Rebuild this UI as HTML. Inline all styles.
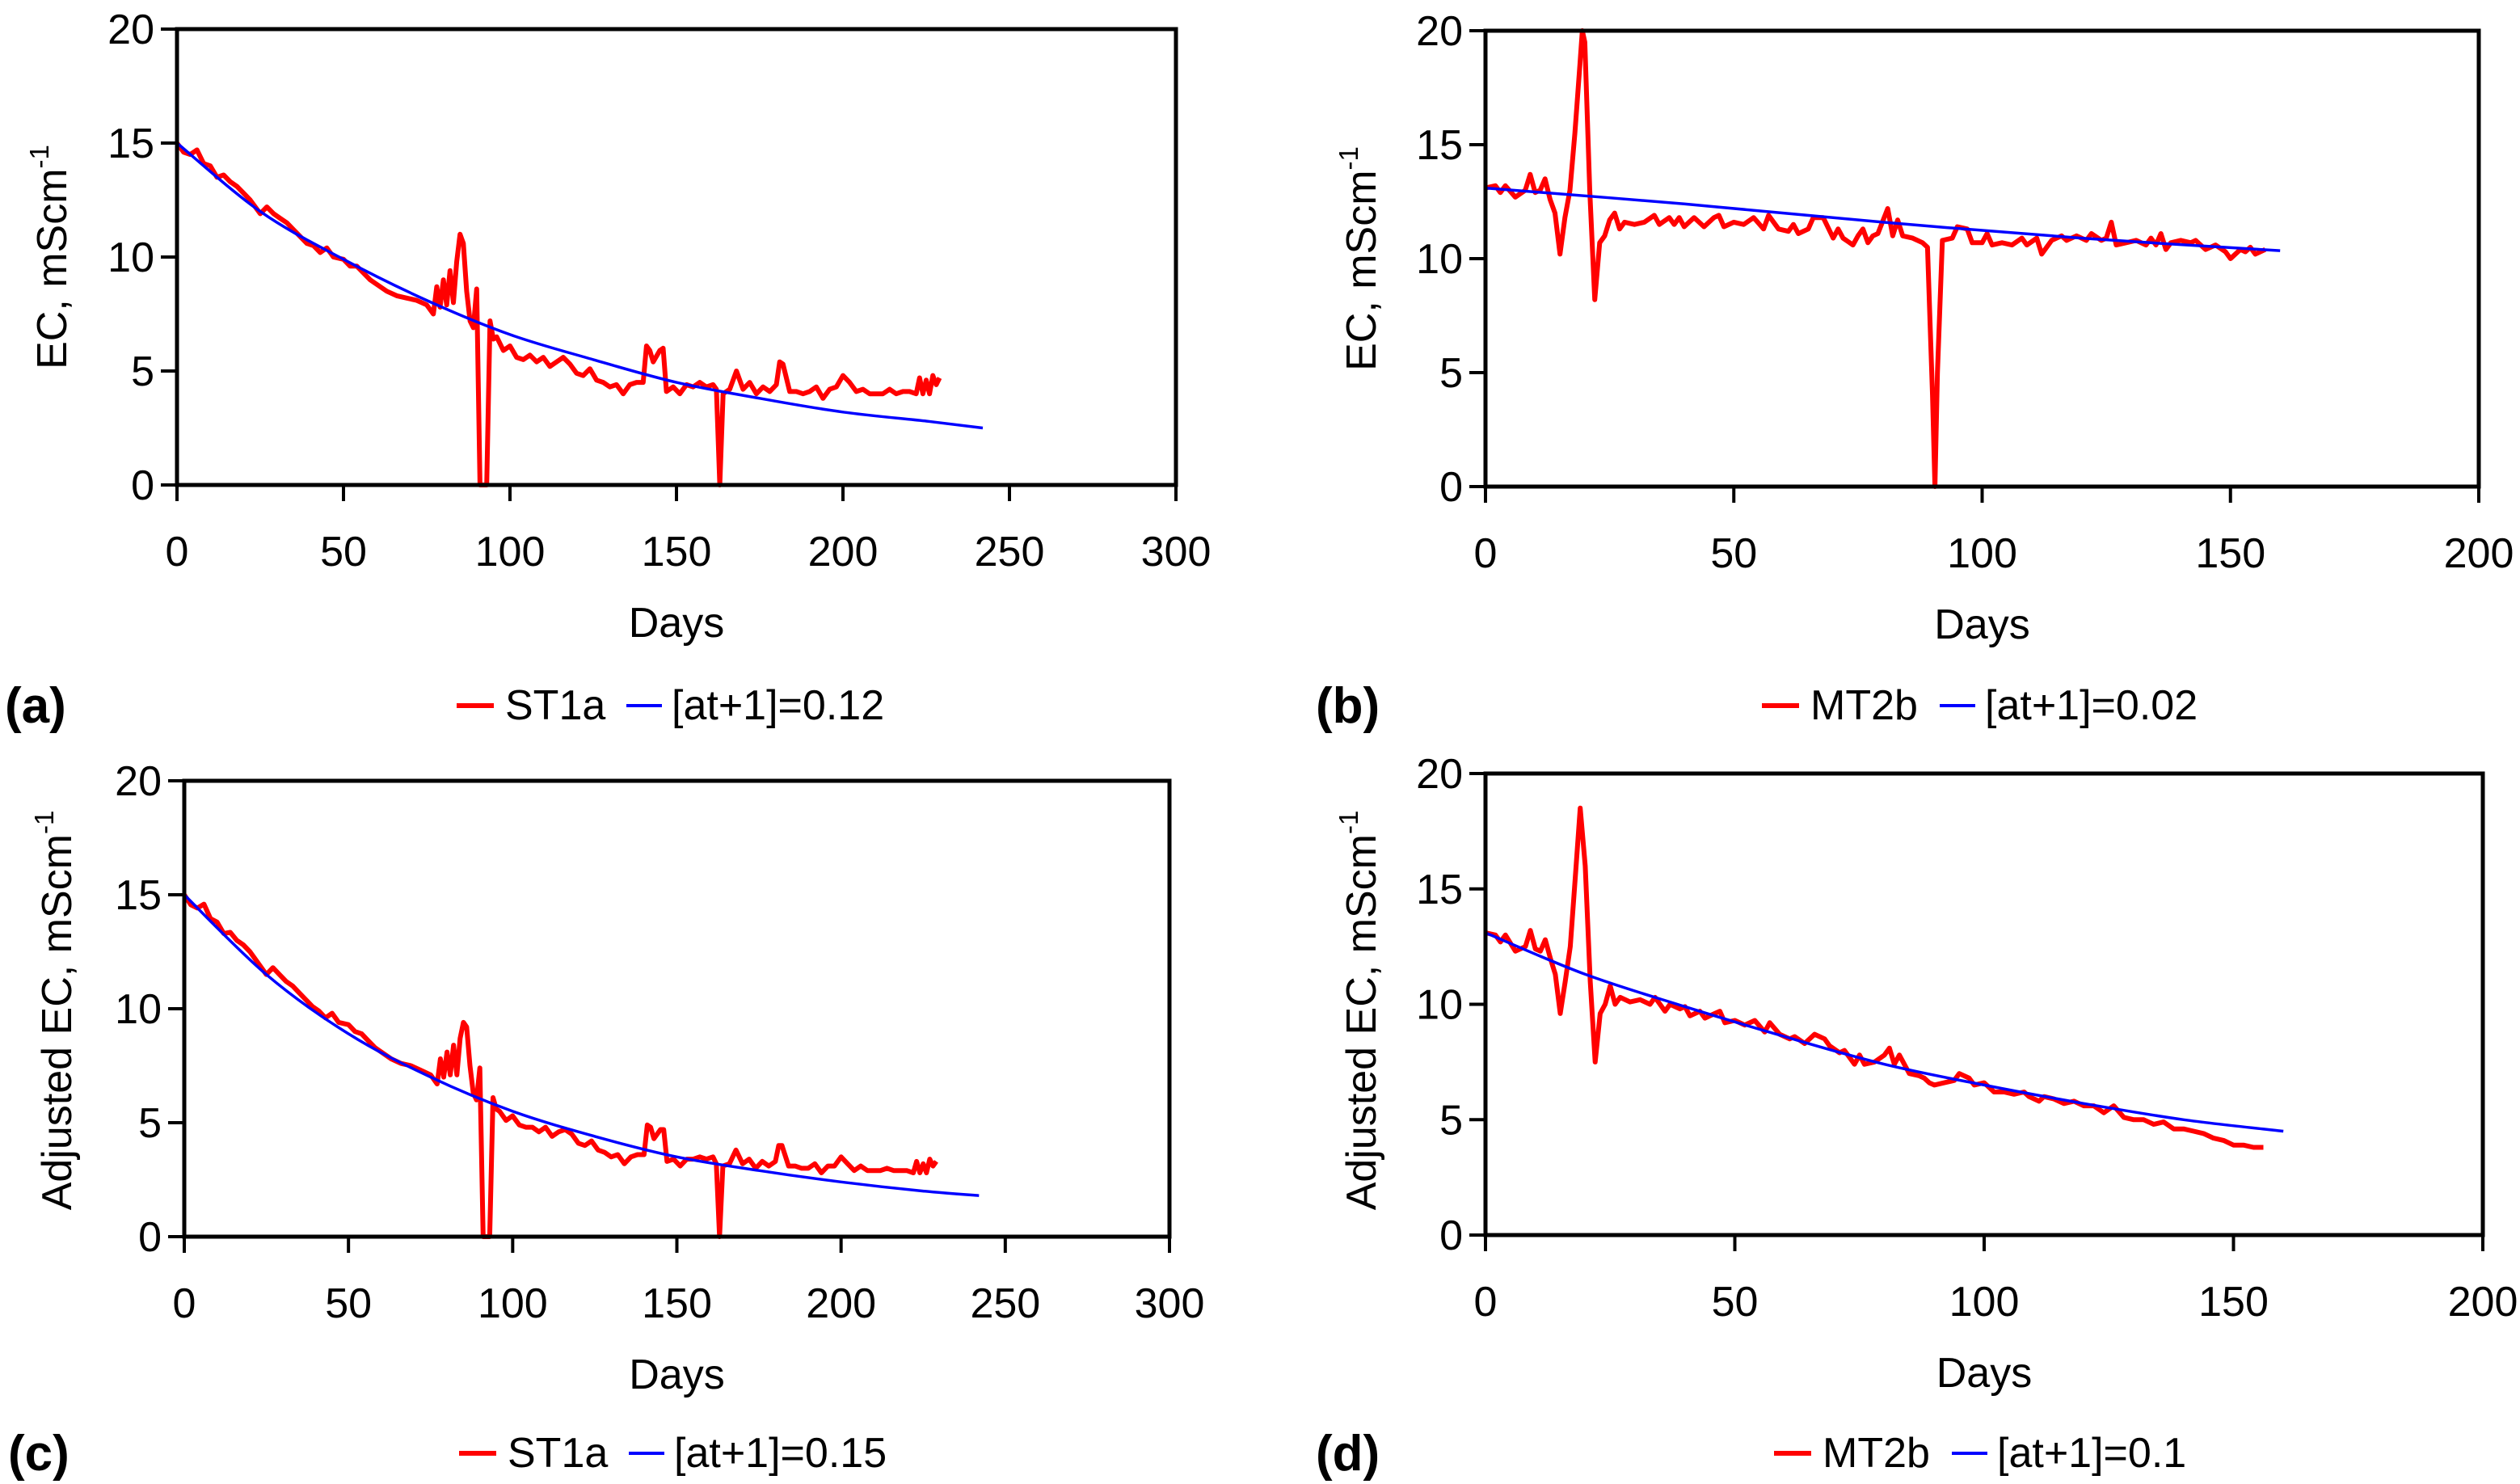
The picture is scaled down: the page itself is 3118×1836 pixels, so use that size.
<!DOCTYPE html>
<html><head><meta charset="utf-8">
<style>
html,body{margin:0;padding:0;background:#fff;}
svg{display:block;font-family:"Liberation Sans",Arial,sans-serif;}
</style></head>
<body>
<svg id="fig" width="3118" height="1836" viewBox="0 0 3118 1836" xmlns="http://www.w3.org/2000/svg"></svg>
<script>
// ---- data ----
const aRedDays=[0,2,4,6,8,10,12,14,16,18,20,22,25,27,29,31,33,35,37,39,41,43,45,47,50,52,54,56,58,60,63,66,69,72,75,77,78,79,80,81,82,83,84,85,86,87,88,89,90,91,92,93,94,95,96,98,100,102,104,106,108,110,112,114,116,118,120,122,124,126,128,130,132,134,136,138,140,141,142,143,145,146,147,149,151,153,155,157,159,161,162,163,164,166,168,170,172,174,176,178,180,181,182,184,186,188,190,192,194,196,198,200,202,204,206,208,210,212,214,216,218,220,222,223,224,225,226,227,228,229];
const aRedVals=[15,14.6,14.5,14.7,14.1,14.0,13.5,13.6,13.3,13.1,12.8,12.5,11.9,12.2,11.9,11.7,11.5,11.2,10.9,10.6,10.5,10.2,10.4,10.0,9.9,9.6,9.6,9.3,9.0,8.8,8.5,8.3,8.2,8.1,7.9,7.5,8.7,7.8,9.0,7.9,9.4,8.0,9.8,11.0,10.6,8.5,7.2,6.9,8.6,0,0,0,7.2,6.4,6.5,5.9,6.1,5.6,5.5,5.7,5.4,5.6,5.2,5.4,5.6,5.3,4.9,4.8,5.1,4.6,4.5,4.3,4.4,4.0,4.4,4.5,4.5,6.1,5.9,5.4,5.9,6.0,4.1,4.3,4.0,4.4,4.3,4.5,4.3,4.4,4.2,0,4.0,4.2,5.0,4.2,4.5,4.0,4.3,4.1,4.4,5.4,5.3,4.1,4.1,4.0,4.1,4.3,3.8,4.2,4.3,4.8,4.5,4.1,4.2,4.0,4.0,4.0,4.2,4.0,4.1,4.1,4.0,4.7,4.0,4.6,4.0,4.8,4.4,4.7];
const aBlueDays=[0,25,50,75,100,125,150,175,200,225,242];
const aBlueVals=[15,12.0,9.9,8.1,6.6,5.5,4.5,3.8,3.2,2.8,2.5];

const cRedDays=aRedDays;
const cRedVals=[15,14.56,14.42,14.59,13.95,13.8,13.3,13.35,13.0,12.8,12.5,12.1,11.5,11.8,11.5,11.2,11.0,10.7,10.4,10.1,9.9,9.6,9.8,9.4,9.3,9.0,8.9,8.6,8.3,8.1,7.8,7.6,7.5,7.3,7.1,6.7,7.8,7.0,8.1,7.1,8.4,7.1,8.7,9.4,9.2,7.5,6.3,6.0,7.4,0,0,0,6.1,5.6,5.5,5.1,5.3,4.9,4.8,4.8,4.6,4.8,4.4,4.6,4.7,4.5,4.1,4.0,4.2,3.8,3.7,3.5,3.6,3.2,3.5,3.6,3.6,4.9,4.8,4.3,4.7,4.7,3.3,3.4,3.1,3.4,3.4,3.5,3.4,3.5,3.2,0,3.1,3.2,3.8,3.2,3.4,3.0,3.3,3.1,3.3,4.0,4.0,3.1,3.1,3.0,3.0,3.2,2.8,3.1,3.1,3.5,3.2,2.9,3.1,2.9,2.9,2.9,3.0,2.9,2.9,2.9,2.8,3.3,2.8,3.2,2.8,3.4,3.1,3.3];
const cBlueDays=[0,25,50,75,100,125,150,175,200,225,242];
const cBlueVals=[15,11.5,8.9,7.0,5.5,4.4,3.5,2.9,2.4,2.0,1.8];

const bRedDays=[0,2,3,4,6,8,9,10,11,12,13,14,15,16,17,18,19,19.5,20,21,22,23,24,25,26,27,28,30,32,34,35,37,38,39,40,42,44,46,47,48,50,52,54,56,57,59,61,62,63,65,66,68,70,71,72,74,75,76,77,78,79,81,82,83,84,86,88,89,90,90.5,91,92,94,95,97,98,100,101,102,104,106,108,109,111,112,114,116,117,119,121,122,124,125,126,127,129,131,133,134,135,136,137,138,140,142,143,145,147,149,150,152,153,154,155,157];
const bRedVals=[13.1,13.2,12.9,13.2,12.7,13.0,13.7,12.9,13.0,13.5,12.6,12.0,10.2,11.8,13.0,15.5,18.5,20,19.5,13,8.2,10.7,11.0,11.7,12.0,11.3,11.6,11.5,11.6,11.9,11.5,11.8,11.5,11.8,11.4,11.8,11.4,11.8,11.9,11.4,11.6,11.5,11.8,11.3,11.9,11.3,11.2,11.5,11.1,11.3,11.8,11.8,10.9,11.3,10.9,10.6,11.0,11.3,10.7,11.0,11.1,12.2,11.0,11.7,11.0,10.9,10.7,10.5,4,0,5,10.8,10.9,11.4,11.3,10.7,10.7,11.1,10.6,10.7,10.6,10.9,10.6,10.9,10.2,10.8,11.0,10.8,11.0,10.8,11.1,10.8,10.9,11.6,10.6,10.7,10.8,10.6,10.9,10.6,11.1,10.4,10.7,10.8,10.7,10.8,10.4,10.6,10.3,10.0,10.4,10.3,10.5,10.2,10.4];
const bBlueDays=[0,40,80,120,160];
const bBlueVals=[13.1,12.4,11.6,10.9,10.35];

const dRedDays=[0,2,3,4,6,8,9,10,11,12,13,14,15,16,17,18,19,20,21,22,23,24,25,26,27,29,31,33,34,36,37,39,40,41,43,44,46,47,48,50,52,54,56,57,59,61,62,64,66,68,69,71,72,74,75,76,78,80,81,82,83,85,87,88,89,90,92,94,95,97,98,100,102,104,106,108,109,111,112,114,116,118,120,122,124,126,128,130,132,134,136,138,140,142,144,146,148,150,152,154,156];
const dRedVals=[13.1,13.0,12.7,13.0,12.3,12.5,13.2,12.4,12.3,12.8,12.0,11.3,9.6,11.0,12.5,15.5,18.5,16,11,7.5,9.6,10.0,10.8,10.0,10.3,10.1,10.2,10.0,10.3,9.7,10.0,9.8,9.9,9.5,9.7,9.4,9.6,9.7,9.2,9.3,9.1,9.3,8.8,9.2,8.7,8.5,8.6,8.3,8.7,8.5,8.2,7.9,8.0,7.4,7.8,7.4,7.5,7.8,8.1,7.4,7.8,7.0,6.9,6.8,6.6,6.5,6.6,6.7,7.0,6.8,6.5,6.6,6.2,6.2,6.1,6.2,6.0,5.8,6.0,5.9,5.7,5.8,5.6,5.6,5.3,5.6,5.1,5.0,5.0,4.8,4.9,4.6,4.6,4.5,4.4,4.2,4.1,3.9,3.9,3.8,3.8];
const dBlueDays=[0,20,40,60,80,100,120,140,160];
const dBlueVals=[13.1,11.3,9.9,8.6,7.4,6.5,5.7,5.0,4.5];

const yTicks=[0,5,10,15,20];
const xTicksA=[0,50,100,150,200,250,300];
const xTicksB=[0,50,100,150,200];

const NS='http://www.w3.org/2000/svg';
const svg=document.getElementById('fig');
function mk(tag,attrs,parent){const e=document.createElementNS(NS,tag);for(const k in attrs)e.setAttribute(k,attrs[k]);(parent||svg).appendChild(e);return e;}

function panel(p){
  const g=mk('g',{});
  
  
  const sx=v=>p.L+(v-0)/p.xmax*(p.R-p.L);
  const sy=v=>p.B-v/20*(p.B-p.T);
  function line(days,vals,color,w,name){
    let d='';let pen=false;
    for(let i=0;i<days.length;i++){
      if(vals[i]==null){pen=false;continue;}
      d+=(pen?'L':'M')+sx(days[i]).toFixed(1)+' '+sy(vals[i]).toFixed(1);pen=true;
    }
    const e=mk('path',{d:d,fill:'none',stroke:color,'stroke-width':w,'stroke-linejoin':'round'},g);
    
    
  }
  function smooth(days,vals,color,w,name){
    const pts=days.map((t,i)=>[sx(t),sy(vals[i])]);
    let d='M'+pts[0][0].toFixed(1)+' '+pts[0][1].toFixed(1);
    for(let i=0;i<pts.length-1;i++){
      const p0=pts[Math.max(0,i-1)],p1=pts[i],p2=pts[i+1],p3=pts[Math.min(pts.length-1,i+2)];
      const c1=[p1[0]+(p2[0]-p0[0])/6,p1[1]+(p2[1]-p0[1])/6];
      const c2=[p2[0]-(p3[0]-p1[0])/6,p2[1]-(p3[1]-p1[1])/6];
      d+='C'+c1[0].toFixed(1)+' '+c1[1].toFixed(1)+' '+c2[0].toFixed(1)+' '+c2[1].toFixed(1)+' '+p2[0].toFixed(1)+' '+p2[1].toFixed(1);
    }
    const e=mk('path',{d:d,fill:'none',stroke:color,'stroke-width':w},g);
    
    
  }
  line(p.rd,p.rv,'#ff0000',6,'measured-series-line');
  smooth(p.bd,p.bv,'#0000ff',3.5,'fitted-series-line');
  const fr=mk('rect',{x:p.L,y:p.T,width:p.R-p.L,height:p.B-p.T,fill:'none',stroke:'#000','stroke-width':5},g);
  
  
  yTicks.forEach(t=>{
    const y=sy(t);
    const tk=mk('line',{x1:p.L-20,x2:p.L,y1:y,y2:y,stroke:'#000','stroke-width':4},g);
    
    
    const tx=mk('text',{x:p.L-28,y:y+18,'font-size':52,'text-anchor':'end'},g);
    tx.textContent=t;
    
    
  });
  p.xt.forEach(t=>{
    const x=sx(t);
    const tk=mk('line',{x1:x,x2:x,y1:p.B,y2:p.B+20,stroke:'#000','stroke-width':4},g);
    
    
    const tx=mk('text',{x:x,y:p.B+100,'font-size':52,'text-anchor':'middle'},g);
    tx.textContent=t;
    
    
  });
  const xl=mk('text',{x:(p.L+p.R)/2,y:p.B+188,'font-size':52,'text-anchor':'middle'},g);
  xl.textContent='Days';
  
  
  const yl=mk('text',{x:0,y:0,'font-size':52,'text-anchor':'middle',transform:'translate('+(p.yx)+','+p.yc+') rotate(-90)'},g);
  
  
  yl.appendChild(document.createTextNode(p.ytitle+', mScm'));
  const sup=mk('tspan',{'font-size':33,dy:-22},yl);sup.textContent='-1';
  const pl=mk('text',{x:p.lx,y:p.ly+4,'font-size':62,'font-weight':'bold'},g);
  pl.textContent='('+p.id+')';
  
  
  const lg=mk('g',{},g);
  
  
  const ly=p.ly-17;
  const r1=mk('line',{x1:p.gx,x2:p.gx+46,y1:ly,y2:ly,stroke:'#ff0000','stroke-width':6},lg);
  
  
  const t1=mk('text',{x:p.gx+60,y:p.ly,'font-size':52},lg);t1.textContent=p.rname;
  
  
  const b1=mk('line',{x1:p.gx2,x2:p.gx2+44,y1:ly,y2:ly,stroke:'#0000ff','stroke-width':4},lg);
  
  
  const t2=mk('text',{x:p.gx2+56,y:p.ly,'font-size':52},lg);t2.textContent=p.bname;
  
  
}
panel({id:'a',L:219,R:1455,T:36,B:600,xmax:300,xt:xTicksA,rd:aRedDays,rv:aRedVals,bd:aBlueDays,bv:aBlueVals,ytitle:'EC',yx:82,yc:318,lx:6,ly:890,gx:565,gx2:775,rname:'ST1a',bname:'[at+1]=0.12'});
panel({id:'b',L:1838,R:3067,T:38,B:602,xmax:200,xt:xTicksB,rd:bRedDays,rv:bRedVals,bd:bBlueDays,bv:bBlueVals,ytitle:'EC',yx:1702,yc:320,lx:1628,ly:890,gx:2180,gx2:2400,rname:'MT2b',bname:'[at+1]=0.02'});
panel({id:'c',L:228,R:1447,T:966,B:1530,xmax:300,xt:xTicksA,rd:cRedDays,rv:cRedVals,bd:cBlueDays,bv:cBlueVals,ytitle:'Adjusted EC',yx:88,yc:1250,lx:10,ly:1815,gx:568,gx2:778,rname:'ST1a',bname:'[at+1]=0.15'});
panel({id:'d',L:1838,R:3072,T:957,B:1528,xmax:200,xt:xTicksB,rd:dRedDays,rv:dRedVals,bd:dBlueDays,bv:dBlueVals,ytitle:'Adjusted EC',yx:1702,yc:1250,lx:1628,ly:1815,gx:2195,gx2:2415,rname:'MT2b',bname:'[at+1]=0.1'});
</script>
</body></html>
